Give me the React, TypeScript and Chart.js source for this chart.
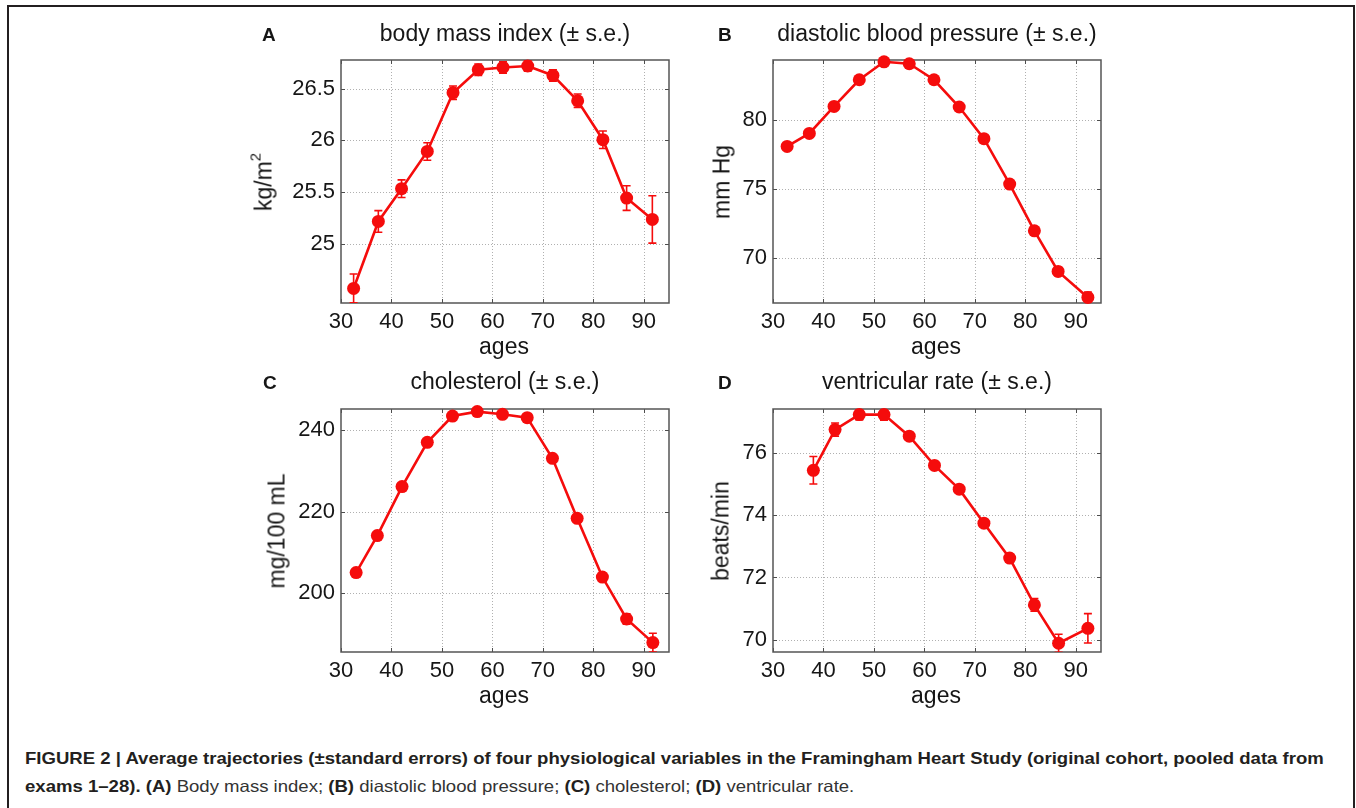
import React, { useEffect, useLayoutEffect, useRef } from "react";
import { Chart, registerables } from "chart.js";

Chart.register(...registerables);

// ---------------- data ----------------
const xTickValues = [30, 40, 50, 60, 70, 80, 90];
const xLimits = [30, 95];

const bmiAges = [32.5, 37.4, 42.0, 47.1, 52.2, 57.2, 62.1, 67.0, 72.0, 76.9, 81.9, 86.6, 91.7];
const bmiMeans = [24.564, 25.214, 25.532, 25.893, 26.463, 26.686, 26.708, 26.722, 26.63, 26.385, 26.007, 25.441, 25.234];
const bmiErrors = [0.14, 0.105, 0.085, 0.085, 0.065, 0.055, 0.055, 0.05, 0.055, 0.065, 0.085, 0.12, 0.23];
const bmiTicks = [25, 25.5, 26, 26.5];
const bmiLimits = [24.423, 26.78];

const dbpAges = [32.8, 37.2, 42.1, 47.1, 52.0, 57.0, 61.9, 66.9, 71.8, 76.9, 81.8, 86.5, 92.4];
const dbpMeans = [78.07, 79.01, 80.96, 82.89, 84.19, 84.05, 82.89, 80.92, 78.63, 75.35, 71.97, 69.03, 67.15];
const dbpErrors = [0.15, 0.12, 0.1, 0.1, 0.13, 0.12, 0.12, 0.13, 0.15, 0.18, 0.22, 0.3, 0.4];
const dbpTicks = [70, 75, 80];
const dbpLimits = [66.75, 84.32];

const cholAges = [33.0, 37.2, 42.1, 47.1, 52.1, 57.0, 62.0, 66.9, 71.9, 76.8, 81.8, 86.6, 91.8];
const cholMeans = [205.09, 214.13, 226.11, 236.94, 243.37, 244.45, 243.79, 242.98, 233.03, 218.36, 204.0, 193.74, 187.97];
const cholErrors = [0.9, 0.7, 0.6, 0.6, 0.6, 0.64, 0.65, 0.7, 0.8, 0.9, 1.0, 1.3, 2.3];
const cholTicks = [200, 220, 240];
const cholLimits = [185.67, 245.09];

const vrAges = [38.0, 42.3, 47.1, 52.0, 57.0, 62.0, 66.9, 71.8, 76.9, 81.8, 86.6, 92.4];
const vrMeans = [75.435, 76.74, 77.22, 77.22, 76.53, 75.59, 74.83, 73.74, 72.62, 71.12, 69.89, 70.37];
const vrErrors = [0.44, 0.21, 0.17, 0.18, 0.12, 0.1, 0.1, 0.1, 0.12, 0.2, 0.29, 0.47];
const vrTicks = [70, 72, 74, 76];
const vrLimits = [69.61, 77.4];

const captionLine1 =
  "FIGURE 2 | Average trajectories (±standard errors) of four physiological variables in the Framingham Heart Study (original cohort, pooled data from";

// ---------------- styling / layout ----------------
const FONT = "'Liberation Sans', Arial, Helvetica, sans-serif";
const RED = "#f50c0c";
const TEXT = "#161616";
const AXIS_W = 70;
const AXIS_H = 45;
const PAD_TOP = 30;
const PAD_RIGHT = 20;

type PanelDef = {
  letter: string;
  title: string;
  ylabel: string;
  ysup?: string;
  ages: number[];
  means: number[];
  errs: number[];
  yTicks: number[];
  yLim: number[];
  box: { l: number; t: number; r: number; b: number };
  letterX: number;
  titleBase: number;
  agesBase: number;
  ylabelCx: number;
  ylabelCy: number;
};

const panels: PanelDef[] = [
  {
    letter: "A", title: "body mass index (± s.e.)", ylabel: "kg/m", ysup: "2",
    ages: bmiAges, means: bmiMeans, errs: bmiErrors, yTicks: bmiTicks, yLim: bmiLimits,
    box: { l: 341, t: 60, r: 669, b: 303 }, letterX: 262, titleBase: 41, agesBase: 354,
    ylabelCx: 264, ylabelCy: 182,
  },
  {
    letter: "B", title: "diastolic blood pressure (± s.e.)", ylabel: "mm Hg",
    ages: dbpAges, means: dbpMeans, errs: dbpErrors, yTicks: dbpTicks, yLim: dbpLimits,
    box: { l: 773, t: 60, r: 1101, b: 303 }, letterX: 718, titleBase: 41, agesBase: 354,
    ylabelCx: 722, ylabelCy: 182,
  },
  {
    letter: "C", title: "cholesterol (± s.e.)", ylabel: "mg/100 mL",
    ages: cholAges, means: cholMeans, errs: cholErrors, yTicks: cholTicks, yLim: cholLimits,
    box: { l: 341, t: 409, r: 669, b: 652 }, letterX: 263, titleBase: 389, agesBase: 703,
    ylabelCx: 277, ylabelCy: 531,
  },
  {
    letter: "D", title: "ventricular rate (± s.e.)", ylabel: "beats/min",
    ages: vrAges, means: vrMeans, errs: vrErrors, yTicks: vrTicks, yLim: vrLimits,
    box: { l: 773, t: 409, r: 1101, b: 652 }, letterX: 718, titleBase: 389, agesBase: 703,
    ylabelCx: 720.5, ylabelCy: 531,
  },
];

// MATLAB-like axes: dotted grid, full box, inward ticks, error bars
const matlabAxesPlugin = {
  id: "matlabAxes",
  beforeDatasetsDraw(chart: any, _args: any, opts: any) {
    const { ctx, chartArea: a } = chart;
    const xs = chart.scales.x;
    const ys = chart.scales.y;
    ctx.save();
    // grid
    ctx.strokeStyle = "rgba(150,150,150,0.75)";
    ctx.lineWidth = 1;
    ctx.setLineDash([1, 2]);
    ctx.beginPath();
    xs.ticks.forEach((t: any) => {
      const px = Math.round(xs.getPixelForValue(t.value)) + 0.5;
      if (px > a.left + 1 && px < a.right - 1) {
        ctx.moveTo(px, a.top);
        ctx.lineTo(px, a.bottom);
      }
    });
    ys.ticks.forEach((t: any) => {
      const py = Math.round(ys.getPixelForValue(t.value)) + 0.5;
      ctx.moveTo(a.left, py);
      ctx.lineTo(a.right, py);
    });
    ctx.stroke();
    ctx.setLineDash([]);
    // inward tick marks
    ctx.strokeStyle = "#4d4d4d";
    ctx.lineWidth = 1;
    ctx.beginPath();
    xs.ticks.forEach((t: any) => {
      const px = Math.round(xs.getPixelForValue(t.value)) + 0.5;
      ctx.moveTo(px, a.bottom);
      ctx.lineTo(px, a.bottom - 4);
      ctx.moveTo(px, a.top);
      ctx.lineTo(px, a.top + 4);
    });
    ys.ticks.forEach((t: any) => {
      const py = Math.round(ys.getPixelForValue(t.value)) + 0.5;
      ctx.moveTo(a.left, py);
      ctx.lineTo(a.left + 4, py);
      ctx.moveTo(a.right, py);
      ctx.lineTo(a.right - 4, py);
    });
    ctx.stroke();
    // box
    ctx.strokeStyle = "#555555";
    ctx.lineWidth = 1.5;
    ctx.strokeRect(a.left, a.top, a.right - a.left, a.bottom - a.top);
    // error bars (clipped to axes)
    ctx.beginPath();
    ctx.rect(a.left, a.top, a.right - a.left, a.bottom - a.top);
    ctx.clip();
    ctx.strokeStyle = RED;
    ctx.lineWidth = 1.6;
    const data = chart.data.datasets[0].data;
    const errs: number[] = opts.errors || [];
    ctx.beginPath();
    data.forEach((d: any, i: number) => {
      const e = errs[i] || 0;
      const px = xs.getPixelForValue(d.x);
      const y1 = ys.getPixelForValue(d.y - e);
      const y2 = ys.getPixelForValue(d.y + e);
      ctx.moveTo(px, y1);
      ctx.lineTo(px, y2);
      ctx.moveTo(px - 4, y1);
      ctx.lineTo(px + 4, y1);
      ctx.moveTo(px - 4, y2);
      ctx.lineTo(px + 4, y2);
    });
    ctx.stroke();
    ctx.restore();
  },
};

function Label(props: {
  x: number; base: number; size: number; bold?: boolean; center?: boolean; children: React.ReactNode;
}) {
  const { x, base, size, bold, center, children } = props;
  return (
    <div
      style={{
        position: "absolute",
        left: x,
        top: base - 0.8465 * size,
        fontSize: size,
        lineHeight: `${size}px`,
        fontWeight: bold ? 700 : 400,
        fontFamily: FONT,
        color: TEXT,
        whiteSpace: "nowrap",
        transform: center ? "translateX(-50%)" : undefined,
      }}
    >
      {children}
    </div>
  );
}

function Panel({ p }: { p: PanelDef }) {
  const ref = useRef<HTMLCanvasElement | null>(null);
  const cw = p.box.r - p.box.l + AXIS_W + PAD_RIGHT;
  const ch = p.box.b - p.box.t + PAD_TOP + AXIS_H;

  useEffect(() => {
    if (!ref.current) return;
    const tickFont = { family: FONT, size: 22 };
    const chart = new Chart(ref.current, {
      type: "line",
      data: {
        datasets: [
          {
            data: p.ages.map((a, i) => ({ x: a, y: p.means[i] })),
            borderColor: RED,
            backgroundColor: RED,
            borderWidth: 2.6,
            pointRadius: 6.5,
            pointHoverRadius: 6.5,
            pointBackgroundColor: RED,
            pointBorderColor: RED,
            pointBorderWidth: 0,
            tension: 0,
            clip: false as any,
          },
        ],
      },
      options: {
        animation: false,
        responsive: false,
        maintainAspectRatio: false,
        devicePixelRatio: 1,
        events: [],
        layout: { padding: { left: 0, top: PAD_TOP, right: PAD_RIGHT, bottom: 0 } },
        plugins: {
          legend: { display: false },
          tooltip: { enabled: false },
          title: { display: false },
          matlabAxes: { errors: p.errs },
        } as any,
        scales: {
          x: {
            type: "linear",
            position: "bottom",
            min: xLimits[0],
            max: xLimits[1],
            afterBuildTicks: (s: any) => {
              s.ticks = xTickValues.map((v) => ({ value: v }));
            },
            afterFit: (s: any) => {
              s.height = AXIS_H;
              s.paddingLeft = 0;
              s.paddingRight = 0;
            },
            grid: { display: false, drawTicks: false },
            border: { display: false },
            ticks: {
              padding: 6,
              color: TEXT,
              font: tickFont,
              maxRotation: 0,
              minRotation: 0,
              autoSkip: false,
              callback: (v: any) => String(v),
            },
          },
          y: {
            type: "linear",
            position: "left",
            min: p.yLim[0],
            max: p.yLim[1],
            afterBuildTicks: (s: any) => {
              s.ticks = p.yTicks.map((v) => ({ value: v }));
            },
            afterFit: (s: any) => {
              s.width = AXIS_W;
              s.paddingTop = 0;
              s.paddingBottom = 0;
            },
            grid: { display: false, drawTicks: false },
            border: { display: false },
            ticks: {
              padding: 6,
              color: TEXT,
              font: tickFont,
              autoSkip: false,
              callback: (v: any) => String(v),
            },
          },
        },
      } as any,
      plugins: [matlabAxesPlugin as any],
    });
    return () => chart.destroy();
  }, []);

  const cx = (p.box.l + p.box.r) / 2;
  return (
    <>
      <canvas
        ref={ref}
        width={cw}
        height={ch}
        style={{
          position: "absolute",
          left: p.box.l - AXIS_W,
          top: p.box.t - PAD_TOP,
          width: cw,
          height: ch,
        }}
      />
      <Label x={p.letterX} base={p.titleBase} size={19} bold>
        {p.letter}
      </Label>
      <Label x={cx} base={p.titleBase} size={23} center>
        {p.title}
      </Label>
      <Label x={cx - 1} base={p.agesBase} size={23} center>
        ages
      </Label>
      <div
        style={{
          position: "absolute",
          left: p.ylabelCx,
          top: p.ylabelCy,
          fontSize: 23,
          lineHeight: "23px",
          fontFamily: FONT,
          color: TEXT,
          whiteSpace: "nowrap",
          transform: "translate(-50%, -50%) rotate(-90deg)",
        }}
      >
        {p.ylabel}
        {p.ysup ? (
          <span style={{ fontSize: 15, position: "relative", top: -11, lineHeight: 0 }}>{p.ysup}</span>
        ) : null}
      </div>
    </>
  );
}

export default function App() {
  const capRef = useRef<HTMLDivElement | null>(null);
  const line1Ref = useRef<HTMLSpanElement | null>(null);

  useLayoutEffect(() => {
    const fit = () => {
      if (!capRef.current || !line1Ref.current) return;
      const w = line1Ref.current.offsetWidth;
      if (w > 0) capRef.current.style.transform = `scaleX(${1299 / w})`;
    };
    fit();
    if ((document as any).fonts && (document as any).fonts.ready) {
      (document as any).fonts.ready.then(fit);
    }
  }, []);

  return (
    <div
      style={{
        position: "absolute",
        left: 0,
        top: 0,
        width: 1356,
        height: 808,
        overflow: "hidden",
        background: "#ffffff",
      }}
    >
      <div
        style={{
          position: "absolute",
          left: 7,
          top: 5,
          width: 1344,
          height: 820,
          borderTop: "2px solid #231f20",
          borderLeft: "2px solid #231f20",
          borderRight: "2px solid #231f20",
        }}
      />
      {panels.map((p) => (
        <Panel key={p.letter} p={p} />
      ))}
      <div
        ref={capRef}
        style={{
          position: "absolute",
          left: 25,
          top: 748,
          transformOrigin: "left top",
          fontFamily: FONT,
          fontSize: 16.5,
          color: "#231f20",
          whiteSpace: "nowrap",
        }}
      >
        <div style={{ lineHeight: "20px", height: 20 }}>
          <span ref={line1Ref} style={{ fontWeight: 700, display: "inline-block" }}>
            {captionLine1}
          </span>
        </div>
        <div style={{ lineHeight: "20px", height: 20, marginTop: 8, color: "#333" }}>
          <b style={{ color: "#231f20" }}>exams 1–28). (A)</b> Body mass index; <b style={{ color: "#231f20" }}>(B)</b>{" "}
          diastolic blood pressure; <b style={{ color: "#231f20" }}>(C)</b> cholesterol;{" "}
          <b style={{ color: "#231f20" }}>(D)</b> ventricular rate.
        </div>
      </div>
    </div>
  );
}
